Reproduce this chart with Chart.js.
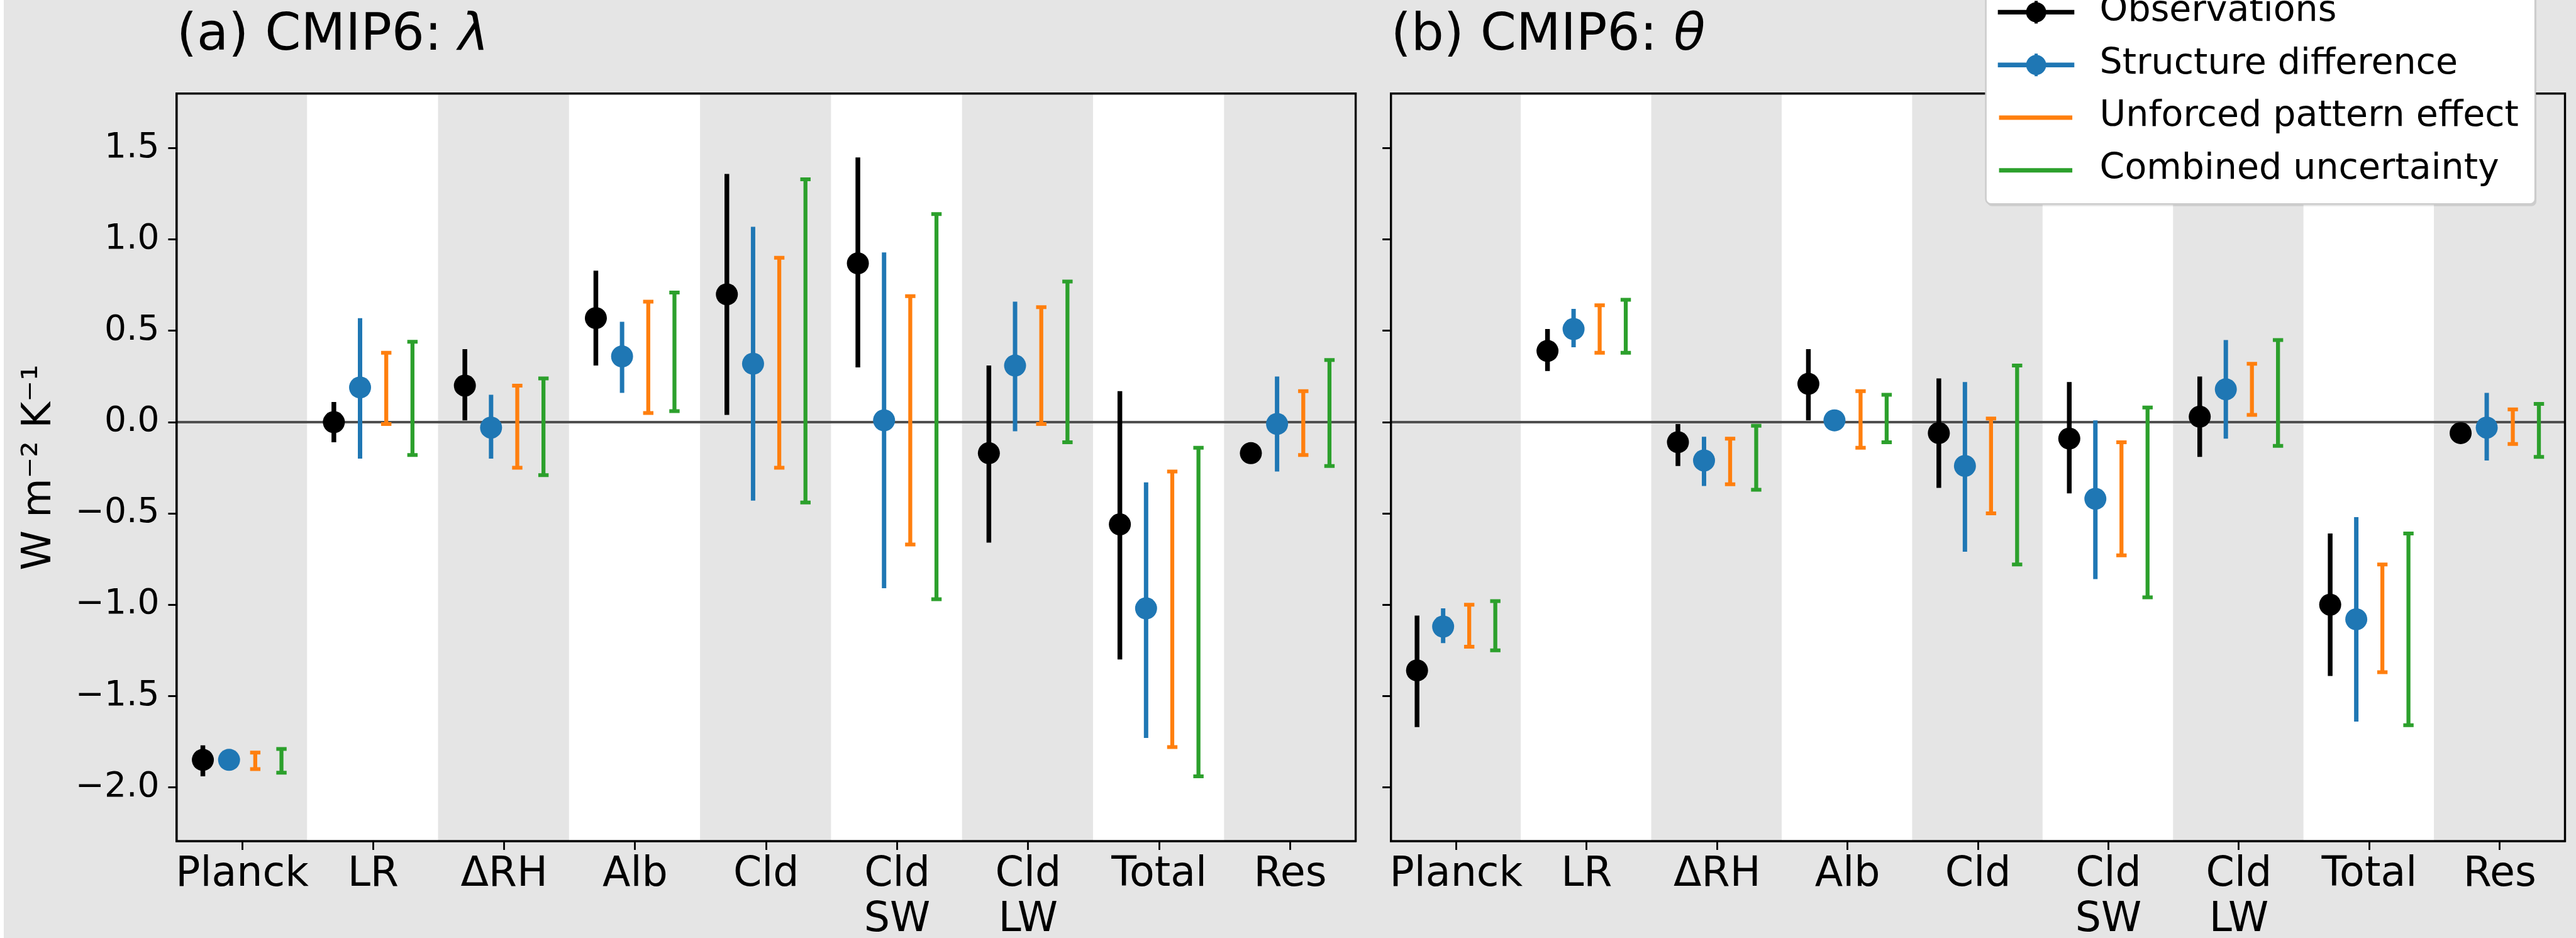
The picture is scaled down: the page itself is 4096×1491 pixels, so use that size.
<!DOCTYPE html>
<html>
<head>
<meta charset="utf-8">
<script src="https://cdn.jsdelivr.net/npm/chart.js@4"></script>
<style>
  html, body { margin:0; padding:0; width:4096px; height:1491px; overflow:hidden; background:#e5e5e5; }
  canvas { position:absolute; top:0; }
  #ca { left:0; }
  #cb { left:2180px; }
  #strip { position:absolute; left:0; top:0; width:6px; height:1491px; background:#ffffff; }
</style>
</head>
<body>
<canvas id="ca" width="2180" height="1491"></canvas>
<canvas id="cb" width="1916" height="1491"></canvas>
<div id="strip"></div>
<script>
// ---------------- DATA ----------------
const categories = ['Planck', 'LR', 'ΔRH', 'Alb', 'Cld', ['Cld', 'SW'], ['Cld', 'LW'], 'Total', 'Res'];
const yTickValues = [-2.0, -1.5, -1.0, -0.5, 0.0, 0.5, 1.0, 1.5];
const yMin = -2.295;
const yMax = 1.80;
const legendLabels = ['Observations', 'Structure difference', 'Unforced pattern effect', 'Combined uncertainty'];
const panelTitlePrefix = ['(a) CMIP6: ', '(b) CMIP6: '];
const panelTitleSymbol = ['λ', 'θ'];

// Panel (a): CMIP6 lambda
const lambdaObs          = [-1.85,  0.00,  0.20, 0.57,  0.70,  0.87, -0.17, -0.56, -0.17];
const lambdaObsLow       = [-1.94, -0.11,  0.01, 0.31,  0.04,  0.30, -0.66, -1.30, -0.17];
const lambdaObsHigh      = [-1.77,  0.11,  0.40, 0.83,  1.36,  1.45,  0.31,  0.17, -0.17];
const lambdaStruct       = [-1.85,  0.19, -0.03, 0.36,  0.32,  0.01,  0.31, -1.02, -0.01];
const lambdaStructLow    = [-1.88, -0.20, -0.20, 0.16, -0.43, -0.91, -0.05, -1.73, -0.27];
const lambdaStructHigh   = [-1.82,  0.57,  0.15, 0.55,  1.07,  0.93,  0.66, -0.33,  0.25];
const lambdaUnforcedLow  = [-1.90, -0.01, -0.25, 0.05, -0.25, -0.67, -0.01, -1.78, -0.18];
const lambdaUnforcedHigh = [-1.81,  0.38,  0.20, 0.66,  0.90,  0.69,  0.63, -0.27,  0.17];
const lambdaCombinedLow  = [-1.92, -0.18, -0.29, 0.06, -0.44, -0.97, -0.11, -1.94, -0.24];
const lambdaCombinedHigh = [-1.79,  0.44,  0.24, 0.71,  1.33,  1.14,  0.77, -0.14,  0.34];

// Panel (b): CMIP6 theta
const thetaObs          = [-1.36, 0.39, -0.11,  0.21, -0.06, -0.09,  0.03, -1.00, -0.06];
const thetaObsLow       = [-1.67, 0.28, -0.24,  0.01, -0.36, -0.39, -0.19, -1.39, -0.06];
const thetaObsHigh      = [-1.06, 0.51, -0.01,  0.40,  0.24,  0.22,  0.25, -0.61, -0.06];
const thetaStruct       = [-1.12, 0.51, -0.21,  0.01, -0.24, -0.42,  0.18, -1.08, -0.03];
const thetaStructLow    = [-1.21, 0.41, -0.35,  0.01, -0.71, -0.86, -0.09, -1.64, -0.21];
const thetaStructHigh   = [-1.02, 0.62, -0.08,  0.01,  0.22,  0.01,  0.45, -0.52,  0.16];
const thetaUnforcedLow  = [-1.23, 0.38, -0.34, -0.14, -0.50, -0.73,  0.04, -1.37, -0.12];
const thetaUnforcedHigh = [-1.00, 0.64, -0.09,  0.17,  0.02, -0.11,  0.32, -0.78,  0.07];
const thetaCombinedLow  = [-1.25, 0.38, -0.37, -0.11, -0.78, -0.96, -0.13, -1.66, -0.19];
const thetaCombinedHigh = [-0.98, 0.67, -0.02,  0.15,  0.31,  0.08,  0.45, -0.61,  0.10];

// ---------------- STYLE ----------------
const FONT = 'DejaVu Sans';
const TITLE_SIZE = 82, TITLE_PAD_TOP = 8.7, TITLE_LH = 1.2;
const BAND_GREY = '#e5e5e5';
const C_OBS = '#000000', C_STRUCT = '#1f77b4', C_UNF = '#ff7f0e', C_COMB = '#2ca02c';
const OFFSETS = [-0.3, -0.1, 0.1, 0.3];

Chart.defaults.font.family = FONT;
Chart.defaults.color = '#000';

function bandDataset() {
  return {
    type: 'bar',
    data: categories.map((c, i) => ({ x: i, y: [yMin, yMax] })),
    backgroundColor: categories.map((c, i) => (i % 2 === 0 ? BAND_GREY : '#ffffff')),
    borderWidth: 0, barPercentage: 1, categoryPercentage: 1, inflateAmount: 1, order: 100
  };
}
function zeroLine() {
  return {
    type: 'line', data: [{ x: -0.5, y: 0 }, { x: 8.5, y: 0 }],
    borderColor: '#505050', borderWidth: 3.9, pointRadius: 0, order: 90
  };
}
function errLine(lo, hi, off, color, width) {
  const pts = [];
  lo.forEach((v, i) => { pts.push({ x: i + off, y: v }, { x: i + off, y: hi[i] }, { x: i + off, y: null }); });
  return {
    type: 'line', data: pts, borderColor: color, borderWidth: width, pointRadius: 0,
    spanGaps: false, borderCapStyle: 'butt', tension: 0, order: 40
  };
}
function capSet(lo, hi, off, color) {
  const pts = [];
  lo.forEach((v, i) => { pts.push({ x: i + off, y: v }, { x: i + off, y: hi[i] }); });
  return {
    type: 'scatter', data: pts, pointStyle: 'line', pointRadius: 8.2,
    pointBorderWidth: 6, pointBorderColor: color, borderColor: color, order: 30
  };
}
function markerSet(vals, off, color) {
  return {
    type: 'scatter', data: vals.map((v, i) => ({ x: i + off, y: v })), pointStyle: 'circle',
    pointRadius: 17.5, pointBackgroundColor: color, backgroundColor: color, pointBorderWidth: 0, order: 10
  };
}

const framePlugin = {
  id: 'frame',
  afterDatasetsDraw(chart) {
    const { ctx, chartArea: a } = chart;
    ctx.save();
    ctx.strokeStyle = '#000'; ctx.lineWidth = 3.4;
    ctx.strokeRect(a.left, a.top, a.right - a.left, a.bottom - a.top);
    ctx.restore();
  }
};

// italic math symbol appended after the library-drawn title text
const titleSymbolPlugin = {
  id: 'titleSymbol',
  afterDraw(chart, args, opts) {
    const tb = chart.titleBlock;
    if (!tb) return;
    const ctx = chart.ctx;
    ctx.save();
    ctx.font = 'normal ' + TITLE_SIZE + 'px "' + FONT + '"';
    const w = ctx.measureText(chart.options.plugins.title.text).width;
    ctx.font = 'italic ' + TITLE_SIZE + 'px "' + FONT + '"';
    ctx.fillStyle = '#000';
    ctx.textAlign = 'left'; ctx.textBaseline = 'middle';
    ctx.fillText(opts.symbol, tb.left + w, tb.top + TITLE_PAD_TOP + TITLE_SIZE * TITLE_LH / 2);
    ctx.restore();
  }
};

function roundRectPath(ctx, x, y, w, h, r) {
  ctx.beginPath();
  ctx.moveTo(x + r, y);
  ctx.lineTo(x + w - r, y); ctx.arcTo(x + w, y, x + w, y + r, r);
  ctx.lineTo(x + w, y + h - r); ctx.arcTo(x + w, y + h, x + w - r, y + h, r);
  ctx.lineTo(x + r, y + h); ctx.arcTo(x, y + h, x, y + h - r, r);
  ctx.lineTo(x, y + r); ctx.arcTo(x, y, x + r, y, r);
  ctx.closePath();
}

const legendPlugin = {
  id: 'refLegend',
  afterDraw(chart) {
    const { ctx, chartArea: a } = chart;
    const right = a.right - 47.4, width = 873.5, left = right - width;
    const bottom = 324.3, top = -40, h = bottom - top;
    ctx.save();
    ctx.fillStyle = 'rgba(0,0,0,0.10)';
    roundRectPath(ctx, left + 2, top + 3.5, width, h, 8); ctx.fill();
    ctx.fillStyle = '#ffffff';
    roundRectPath(ctx, left, top, width, h, 8); ctx.fill();
    ctx.strokeStyle = '#cccccc'; ctx.lineWidth = 2.5; ctx.stroke();
    const colors = [C_OBS, C_STRUCT, C_UNF, C_COMB];
    const rowStep = 83.8, lastRow = bottom - 53.5;
    legendLabels.forEach((lab, k) => {
      const y = lastRow - (legendLabels.length - 1 - k) * rowStep;
      const col = colors[k];
      ctx.strokeStyle = col; ctx.lineCap = 'butt';
      if (k < 2) {
        ctx.lineWidth = 7.4;
        ctx.beginPath(); ctx.moveTo(left + 19.1, y); ctx.lineTo(left + 140.7, y); ctx.stroke();
        ctx.lineWidth = 5;
        ctx.beginPath(); ctx.moveTo(left + 80, y - 18); ctx.lineTo(left + 80, y + 18); ctx.stroke();
        ctx.fillStyle = col;
        ctx.beginPath(); ctx.arc(left + 80, y, 16, 0, Math.PI * 2); ctx.fill();
      } else {
        ctx.lineWidth = 7;
        ctx.beginPath(); ctx.moveTo(left + 21, y); ctx.lineTo(left + 137.5, y); ctx.stroke();
      }
      ctx.fillStyle = '#000';
      ctx.font = '57px "' + FONT + '"';
      ctx.textBaseline = 'middle'; ctx.textAlign = 'left';
      ctx.fillText(lab, left + 181, y - 1.5);
    });
    ctx.restore();
  }
};

function makeChart(id, p) {
  const ds = [
    bandDataset(), zeroLine(),
    errLine(p.obsLow, p.obsHigh, OFFSETS[0], C_OBS, 7.5),
    errLine(p.structLow, p.structHigh, OFFSETS[1], C_STRUCT, 7),
    errLine(p.unfLow, p.unfHigh, OFFSETS[2], C_UNF, 6.3),
    errLine(p.combLow, p.combHigh, OFFSETS[3], C_COMB, 6.3),
    capSet(p.unfLow, p.unfHigh, OFFSETS[2], C_UNF),
    capSet(p.combLow, p.combHigh, OFFSETS[3], C_COMB),
    markerSet(p.obs, OFFSETS[0], C_OBS),
    markerSet(p.struct, OFFSETS[1], C_STRUCT)
  ];
  return new Chart(document.getElementById(id), {
    type: 'scatter',
    data: { datasets: ds },
    options: {
      responsive: false, animation: false, devicePixelRatio: 1, events: [],
      layout: { padding: { left: 0, top: 0, bottom: 0, right: p.padRight } },
      plugins: {
        legend: { display: false }, tooltip: { enabled: false },
        title: {
          display: true, text: p.title, align: 'start', fullSize: false, color: '#000',
          font: { family: FONT, size: TITLE_SIZE, weight: 'normal', lineHeight: TITLE_LH },
          padding: { top: TITLE_PAD_TOP, bottom: 41.6 }
        },
        titleSymbol: { symbol: p.symbol }
      },
      scales: {
        x: {
          type: 'linear', min: -0.5, max: 8.5, offset: false,
          afterBuildTicks: s => { s.ticks = categories.map((c, i) => ({ value: i })); },
          afterFit: s => { s.height = 154; s.paddingLeft = 0; s.paddingRight = 0; },
          ticks: {
            callback: (v, i) => categories[i], autoSkip: false, maxRotation: 0, minRotation: 0,
            padding: 3.9, color: '#000', font: { family: FONT, size: 65, lineHeight: 1.108 }
          },
          grid: { drawOnChartArea: false, drawTicks: true, tickLength: 14, tickWidth: 2.8, tickColor: '#000', offset: false },
          border: { display: true, color: '#000', width: 3.4 }
        },
        y: {
          type: 'linear', min: yMin, max: yMax,
          afterBuildTicks: s => { s.ticks = yTickValues.map(v => ({ value: v })); },
          afterFit: s => { s.width = p.yWidth; s.paddingTop = 0; s.paddingBottom = 0; },
          ticks: {
            display: p.showYLabels,
            callback: v => v.toFixed(1).replace('-', '\u2212'),
            padding: 14, color: '#000', font: { family: FONT, size: 55 }
          },
          grid: { drawOnChartArea: false, drawTicks: true, tickLength: 13.5, tickWidth: 3, tickColor: '#000' },
          border: { display: true, color: '#000', width: 3.4 },
          title: {
            display: p.showYLabels, text: 'W m\u207B\u00B2 K\u207B\u00B9', color: '#000',
            font: { family: FONT, size: 64, lineHeight: 1.2 }, padding: { top: 25.4, bottom: 0 }
          }
        }
      }
    },
    plugins: p.legend ? [framePlugin, titleSymbolPlugin, legendPlugin] : [framePlugin, titleSymbolPlugin]
  });
}

makeChart('ca', {
  title: panelTitlePrefix[0], symbol: panelTitleSymbol[0], showYLabels: true, yWidth: 280.9, padRight: 24.4, legend: false,
  obs: lambdaObs, obsLow: lambdaObsLow, obsHigh: lambdaObsHigh,
  struct: lambdaStruct, structLow: lambdaStructLow, structHigh: lambdaStructHigh,
  unfLow: lambdaUnforcedLow, unfHigh: lambdaUnforcedHigh,
  combLow: lambdaCombinedLow, combHigh: lambdaCombinedHigh
});
makeChart('cb', {
  title: panelTitlePrefix[1], symbol: panelTitleSymbol[1], showYLabels: false, yWidth: 31.7, padRight: 11.5, legend: true,
  obs: thetaObs, obsLow: thetaObsLow, obsHigh: thetaObsHigh,
  struct: thetaStruct, structLow: thetaStructLow, structHigh: thetaStructHigh,
  unfLow: thetaUnforcedLow, unfHigh: thetaUnforcedHigh,
  combLow: thetaCombinedLow, combHigh: thetaCombinedHigh
});
</script>
</body>
</html>
